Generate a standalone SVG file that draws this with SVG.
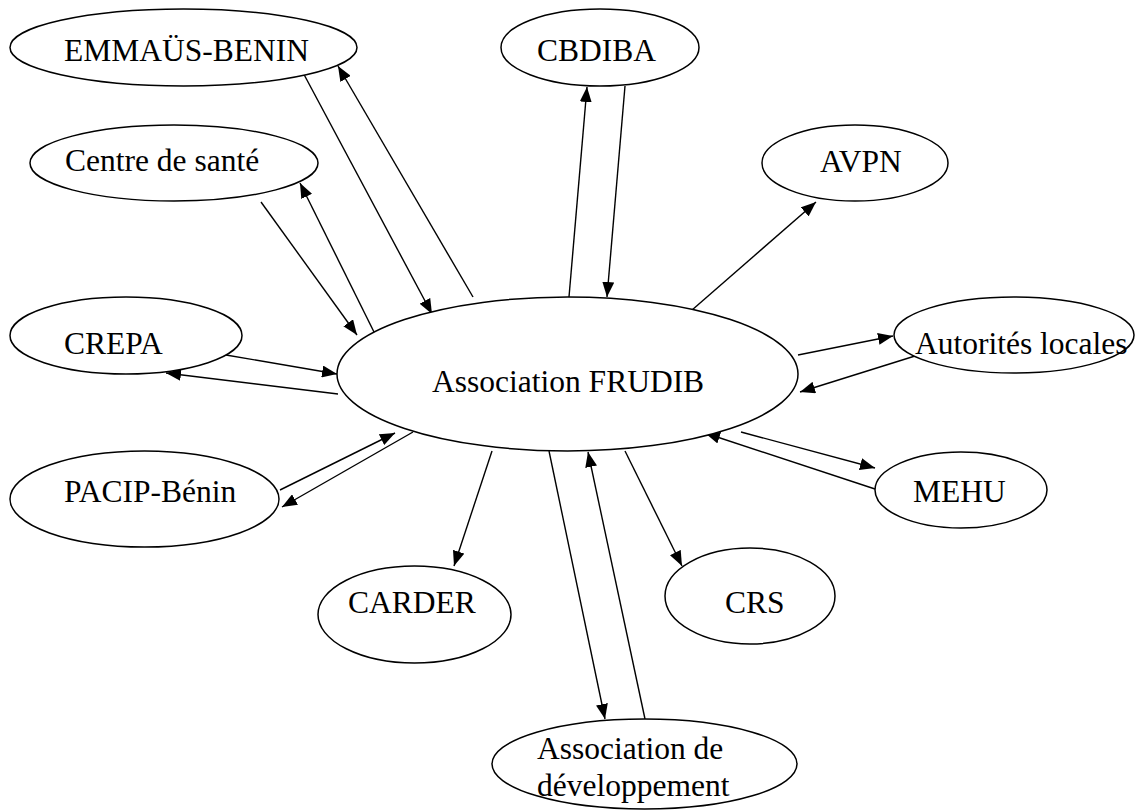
<svg xmlns="http://www.w3.org/2000/svg" width="1143" height="811" viewBox="0 0 1143 811">
<style>
.n ellipse{fill:#fff;stroke:#000;stroke-width:1.5}
.n text{font-family:"Liberation Serif","Times New Roman",serif;font-size:31.5px;fill:#000}
.c line{stroke:#000;stroke-width:1.4;marker-end:url(#ah)}
</style>
<defs>
<marker id="ah" markerUnits="userSpaceOnUse" markerWidth="16" markerHeight="12" refX="15" refY="6" orient="auto">
<path d="M0,0 L15,6 L0,12 z" fill="#000"/>
</marker>
</defs>
<rect width="1143" height="811" fill="#fff"/>
<g class="c" id="connectors">
<line x1="300" y1="67" x2="432" y2="314"/>
<line x1="473" y1="297" x2="338" y2="66"/>
<line x1="261" y1="202" x2="357" y2="335"/>
<line x1="376" y1="336" x2="300" y2="183"/>
<line x1="226" y1="355" x2="337" y2="374"/>
<line x1="338" y1="394" x2="166" y2="373"/>
<line x1="280" y1="490" x2="395" y2="433"/>
<line x1="413" y1="432" x2="282" y2="507"/>
<line x1="492" y1="451" x2="454" y2="566"/>
<line x1="549" y1="451" x2="605" y2="719"/>
<line x1="645" y1="719" x2="588" y2="452"/>
<line x1="625" y1="451" x2="682" y2="566"/>
<line x1="569" y1="297" x2="587" y2="87"/>
<line x1="625" y1="86" x2="607" y2="297"/>
<line x1="684" y1="317" x2="816" y2="202"/>
<line x1="798" y1="355" x2="893" y2="336"/>
<line x1="915" y1="356" x2="800" y2="392"/>
<line x1="741" y1="432" x2="875" y2="468"/>
<line x1="875" y1="489" x2="705" y2="433"/>
</g>
<g class="n" id="main"><ellipse cx="567.5" cy="374" rx="230.5" ry="77"/><text x="432" y="392">Association FRUDIB</text></g>
<g class="n" id="emmaus"><ellipse cx="183.5" cy="47.5" rx="173.5" ry="38.5"/><text x="64" y="61">EMMAÜS-BENIN</text></g>
<g class="n" id="cbdiba"><ellipse cx="600" cy="47.5" rx="99" ry="38.5"/><text x="537" y="61">CBDIBA</text></g>
<g class="n" id="centre"><ellipse cx="174" cy="163" rx="144" ry="38"/><text x="65" y="171">Centre de santé</text></g>
<g class="n" id="avpn"><ellipse cx="855" cy="163" rx="93" ry="38"/><text x="820" y="172">AVPN</text></g>
<g class="n" id="crepa"><ellipse cx="126" cy="335.5" rx="116" ry="38.5"/><text x="64" y="354">CREPA</text></g>
<g class="n" id="autorites"><ellipse cx="1014" cy="335" rx="120" ry="38"/><text x="915" y="354">Autorités locales</text></g>
<g class="n" id="pacip"><ellipse cx="144.5" cy="499" rx="134.5" ry="48"/><text x="64" y="502">PACIP-Bénin</text></g>
<g class="n" id="mehu"><ellipse cx="961" cy="490" rx="86" ry="38"/><text x="913" y="502">MEHU</text></g>
<g class="n" id="carder"><ellipse cx="414.5" cy="614.5" rx="96.5" ry="48.5"/><text x="348" y="613">CARDER</text></g>
<g class="n" id="crs"><ellipse cx="750" cy="596" rx="85" ry="48"/><text x="725" y="613">CRS</text></g>
<g class="n" id="assocdev"><ellipse cx="644.5" cy="764" rx="152.5" ry="45"/><text x="537" y="759">Association de</text><text x="537" y="796">développement</text></g>
</svg>
